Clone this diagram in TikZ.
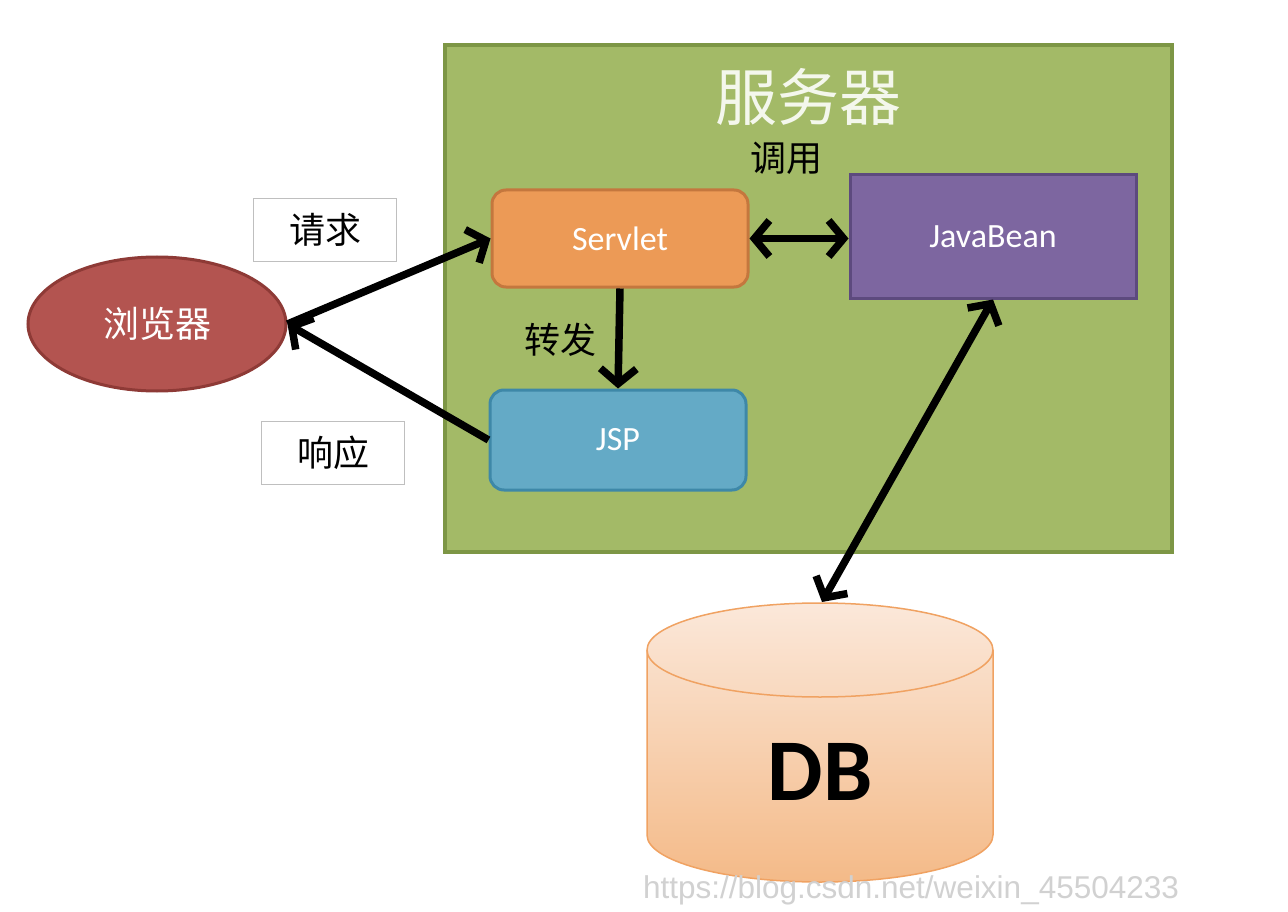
\documentclass[tikz,border=0pt]{standalone}
\usepackage{fontspec}
\setmainfont{Carlito}
\newfontfamily\cjk{Noto Sans CJK SC}
\newfontfamily\wmfont{Liberation Sans}
\usetikzlibrary{arrows.meta,shapes.geometric}
\definecolor{srvfill}{HTML}{A3BA67}
\definecolor{srvdraw}{HTML}{7D9645}
\definecolor{sltfill}{HTML}{EC9A56}
\definecolor{sltdraw}{HTML}{C4773E}
\definecolor{jbfill}{HTML}{7D66A0}
\definecolor{jbdraw}{HTML}{5D4A7E}
\definecolor{jspfill}{HTML}{64AAC6}
\definecolor{jspdraw}{HTML}{3E88A8}
\definecolor{brfill}{HTML}{B35450}
\definecolor{brdraw}{HTML}{8E3A36}
\definecolor{dbtopc}{HTML}{FBE8DA}
\definecolor{dbbotc}{HTML}{F4BA88}
\definecolor{dbdraw}{HTML}{F0A262}
\definecolor{titlec}{HTML}{F4F7EC}
\tikzset{
  cjktext/.style={font=\fontsize{36}{40}\selectfont\cjk, text=black, inner sep=0pt},
  comp/.style={draw, line width=3pt, rounded corners=14pt, text=white, font=\fontsize{34}{40}\selectfont, inner sep=0pt},
  labelbox/.style={draw=black!25, line width=1pt, fill=white, minimum width=143pt, minimum height=63pt, font=\fontsize{36}{40}\selectfont\cjk, inner sep=0pt},
  tipb/.tip={Straight Barb[length=15pt,width=36pt]},
  arr/.style={line width=7.5pt, -tipb},
  darr/.style={line width=7.5pt, tipb-tipb},
}
\begin{document}
\begin{tikzpicture}[x=1pt,y=-1pt]
\useasboundingbox[fill=white] (0,0) rectangle (1288,912);
% server
\node[draw=srvdraw, fill=srvfill, line width=4pt, minimum width=727pt, minimum height=507pt, inner sep=0pt] (server) at (808.5,298.5) {};
\node[font=\fontsize{62}{68}\selectfont\cjk, text=titlec, inner sep=0pt] (title) at (808,97) {服务器};
\node[cjktext] (call) at (786,158) {调用};
\node[cjktext] (fwd) at (560,340) {转发};
% components
\node[comp, draw=sltdraw, fill=sltfill, minimum width=256pt, minimum height=97pt] (servlet) at (620,238.5) {Servlet};
\node[comp, draw=jbdraw, fill=jbfill, rounded corners=0pt, minimum width=286pt, minimum height=123pt] (javabean) at (993,236.5) {JavaBean};
\node[comp, draw=jspdraw, fill=jspfill, minimum width=256pt, minimum height=100pt] (jsp) at (618,440) {JSP};
% browser
\node[ellipse, draw=brdraw, fill=brfill, line width=3pt, minimum width=258pt, minimum height=134pt, inner sep=0pt, text=white, font=\fontsize{36}{40}\selectfont\cjk] (browser) at (157,324) {浏览器};
% label boxes
\node[labelbox] (req) at (325,230) {请求};
\node[labelbox] (resp) at (333,453) {响应};
% DB
\shade[top color=dbtopc, bottom color=dbbotc, draw=dbdraw, line width=1.5pt]
  (647,650) -- (647,835) arc[start angle=180, end angle=0, x radius=173, y radius=47]
  -- (993,650) arc[start angle=0, end angle=-180, x radius=173, y radius=47] -- cycle;
\draw[dbdraw, line width=1.5pt] (647,650) arc[start angle=180, end angle=0, x radius=173, y radius=47];
\coordinate (dbtop) at (822,602);
\node[font=\fontsize{88}{96}\selectfont\bfseries, text=black, inner sep=0pt] (dbtext) at (820,772) {DB};
% connectors
\draw[arr] (browser.east) -- (servlet.west);
\draw[arr] (jsp.west) -- (browser.east);
\draw[darr] (servlet.east) -- (servlet.east -| javabean.west);
\draw[arr] (servlet.south) -- (jsp.north);
\draw[darr] (javabean.south) -- (dbtop);
% watermark
\node[font=\fontsize{31.5}{34}\selectfont\wmfont, text=black!18, inner sep=0pt] (wm) at (911,890) {https://blog.csdn.net/weixin\_45504233};
\end{tikzpicture}
\end{document}
